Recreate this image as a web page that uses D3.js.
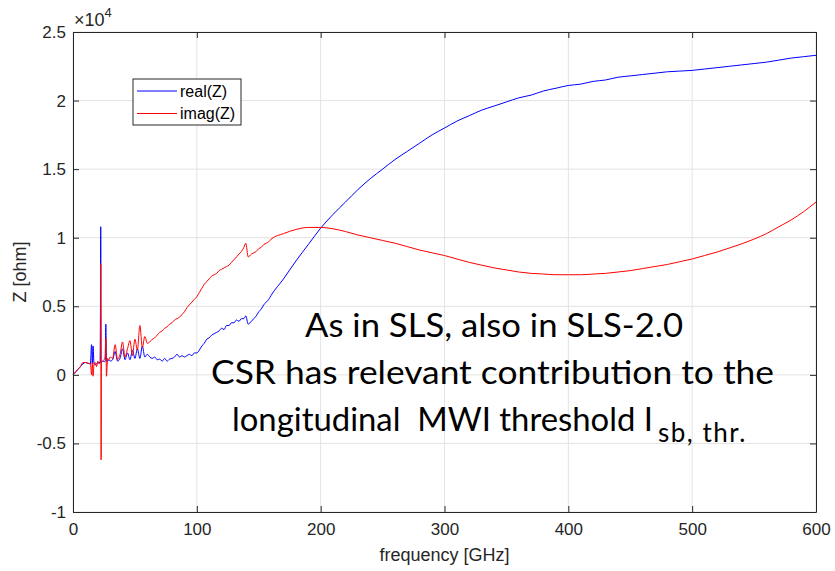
<!DOCTYPE html>
<html>
<head>
<meta charset="utf-8">
<script src="https://cdn.jsdelivr.net/npm/d3@7"></script>
<style>
  body { margin: 0; background: #fff; }
  text { font-family: "Liberation Sans", Arial, sans-serif; }
</style>
</head>
<body>
<svg id="chart" width="835" height="571"></svg>
<script>
// Longitudinal impedance Z(f) in units of 1e4 ohm
const freqGHz = [
  0, 2, 4, 6, 8, 10, 12, 14, 15, 15.6, 16.2, 17, 18, 19, 20, 21, 22, 22.4, 22.7, 23,
  24, 25, 26, 26.5, 27, 28, 29, 30,
  32, 34, 36, 38, 40, 42, 44, 46, 48, 50, 52, 54, 56, 58, 60,
  62, 64, 66, 68, 70, 72, 74, 76, 78, 80, 82, 84, 86, 88, 90, 92, 94, 96, 98, 100,
  102, 104, 106, 108, 110, 112, 114, 116, 118, 120, 122, 124, 126, 128, 130,
  132, 134, 136, 138, 139.5, 141.5, 144, 146, 148, 150, 152, 154, 156, 158, 160,
  170, 180, 190, 200, 210, 220, 230, 240, 250, 260, 270, 280, 290, 300,
  310, 320, 330, 340, 350, 360, 370, 380, 390, 400, 410, 420, 430, 440, 450,
  460, 470, 480, 490, 500, 510, 520, 530, 540, 550, 560, 570, 580, 590, 600
];

const realZ = [
  0.00, 0.02, 0.04, 0.06, 0.08, 0.09, 0.085, 0.08, 0.22, 0.08, 0.21, 0.08, 0.075, 0.08, 0.085, 0.09, 0.09, 1.08, 0.09, 0.09,
  0.10, 0.095, 0.10, 0.37, 0.10, 0.10, 0.11, 0.10,
  0.11, 0.17, 0.10, 0.12, 0.19, 0.11, 0.16, 0.11, 0.18, 0.12, 0.19, 0.12, 0.21, 0.13, 0.15,
  0.13, 0.12, 0.13, 0.11, 0.115, 0.10, 0.12, 0.10, 0.115, 0.12, 0.13, 0.15, 0.13, 0.14, 0.13, 0.14, 0.15, 0.14, 0.16, 0.16,
  0.18, 0.21, 0.23, 0.26, 0.27, 0.29, 0.30, 0.31, 0.32, 0.34, 0.33, 0.36, 0.36, 0.38, 0.38,
  0.40, 0.39, 0.41, 0.41, 0.43, 0.37, 0.39, 0.41, 0.43, 0.46, 0.48, 0.51, 0.53, 0.55, 0.58,
  0.70, 0.83, 0.95, 1.07, 1.17, 1.26, 1.35, 1.43, 1.50, 1.57, 1.63, 1.69, 1.75, 1.80,
  1.85, 1.89, 1.93, 1.96, 1.99, 2.02, 2.04, 2.07, 2.09, 2.11, 2.12, 2.14, 2.15, 2.17, 2.18,
  2.19, 2.20, 2.21, 2.215, 2.22, 2.23, 2.24, 2.25, 2.26, 2.27, 2.28, 2.295, 2.31, 2.32, 2.33
];

const imagZ = [
  0.00, 0.02, 0.04, 0.06, 0.09, 0.09, 0.085, 0.08, 0.00, 0.09, -0.01, 0.08, 0.09, 0.06, 0.10, 0.08, 0.09, 0.81, -0.62, 0.09,
  0.10, 0.11, 0.13, 0.27, -0.01, 0.12, 0.11, 0.13,
  0.12, 0.22, 0.11, 0.15, 0.24, 0.13, 0.19, 0.25, 0.14, 0.26, 0.18, 0.36, 0.20, 0.28, 0.23,
  0.24, 0.26, 0.27, 0.29, 0.31, 0.32, 0.34, 0.35, 0.37, 0.38, 0.40, 0.41, 0.42, 0.44, 0.46, 0.49, 0.51, 0.53, 0.55, 0.57,
  0.60, 0.63, 0.66, 0.68, 0.70, 0.72, 0.73, 0.74, 0.76, 0.77, 0.78, 0.79, 0.80, 0.82, 0.84,
  0.86, 0.88, 0.90, 0.93, 0.96, 0.86, 0.88, 0.89, 0.90, 0.92, 0.93, 0.95, 0.96, 0.97, 0.99,
  1.03, 1.06, 1.075, 1.075, 1.065, 1.045, 1.02, 1.00, 0.98, 0.96, 0.935, 0.91, 0.89, 0.87,
  0.845, 0.82, 0.80, 0.78, 0.765, 0.75, 0.74, 0.735, 0.73, 0.73, 0.73, 0.735, 0.74, 0.75, 0.76,
  0.775, 0.79, 0.805, 0.825, 0.845, 0.87, 0.895, 0.925, 0.955, 0.99, 1.03, 1.08, 1.13, 1.19, 1.26
];

const xTicks = [0, 100, 200, 300, 400, 500, 600];
const yTicks = [-1, -0.5, 0, 0.5, 1, 1.5, 2, 2.5];
const seriesNames = ["real(Z)", "imag(Z)"];
const seriesColors = ["#0000ff", "#ff0000"];
const noteLines = [
  "As in SLS, also in SLS-2.0",
  "CSR has relevant contribution to the",
  "longitudinal  MWI threshold I"
];
const noteSubscript = "sb, thr.";

const svg = d3.select("#chart");
const margin = { left: 73, right: 19, top: 32, bottom: 59 };
const W = 835, H = 571;
const x = d3.scaleLinear().domain([0, 600]).range([margin.left, W - margin.right]);
const y = d3.scaleLinear().domain([-1, 2.5]).range([H - margin.bottom, margin.top]);
const axisColor = "#262626";

// grid
const grid = svg.append("g");
grid.selectAll(".gx").data(xTicks).join("line")
  .attr("x1", d => x(d)).attr("x2", d => x(d))
  .attr("y1", y(-1)).attr("y2", y(2.5))
  .attr("stroke", "#e3e3e3").attr("stroke-width", 1);
grid.selectAll(".gy").data(yTicks).join("line")
  .attr("x1", x(0)).attr("x2", x(600))
  .attr("y1", d => y(d)).attr("y2", d => y(d))
  .attr("stroke", "#e3e3e3").attr("stroke-width", 1);

// curves
const line = d3.line().x((d, i) => x(freqGHz[i])).y(d => y(d)).curve(d3.curveMonotoneX);
const plot = svg.append("g");
[realZ, imagZ].forEach((vals, k) => {
  plot.append("path").datum(vals)
    .attr("d", line)
    .attr("fill", "none")
    .attr("stroke", seriesColors[k])
    .attr("stroke-width", 1)
    .attr("stroke-linejoin", "round");
});

// axes (box with inward ticks on all four sides)
const tickSize = -6;
const axBottom = svg.append("g").attr("transform", `translate(0,${y(-1)})`)
  .call(d3.axisBottom(x).tickValues(xTicks).tickSizeInner(tickSize).tickSizeOuter(0).tickPadding(11).tickFormat(d3.format("d")));
const axTop = svg.append("g").attr("transform", `translate(0,${y(2.5)})`)
  .call(d3.axisTop(x).tickValues(xTicks).tickSizeInner(tickSize).tickSizeOuter(0).tickFormat(""));
const axLeft = svg.append("g").attr("transform", `translate(${x(0)},0)`)
  .call(d3.axisLeft(y).tickValues(yTicks).tickSizeInner(tickSize).tickSizeOuter(0).tickPadding(7).tickFormat(d => String(d)));
const axRight = svg.append("g").attr("transform", `translate(${x(600)},0)`)
  .call(d3.axisRight(y).tickValues(yTicks).tickSizeInner(tickSize).tickSizeOuter(0).tickFormat(""));
[axBottom, axTop, axLeft, axRight].forEach(g => {
  g.select(".domain").attr("stroke", axisColor).attr("stroke-width", 1);
  g.selectAll(".tick line").attr("stroke", axisColor);
  g.selectAll(".tick text").attr("fill", axisColor).style("font-size", "17px")
    .style("font-family", "'Liberation Sans', Arial, sans-serif");
});

// exponent label
const expo = svg.append("text").attr("x", x(0) + 1).attr("y", 26).attr("fill", axisColor)
  .style("font-size", "18px");
expo.append("tspan").text("\u00d710");
expo.append("tspan").attr("dy", -9).style("font-size", "13px").text("4");

// axis titles
svg.append("text").attr("x", (x(0) + x(600)) / 2).attr("y", 561)
  .attr("text-anchor", "middle").attr("fill", axisColor).style("font-size", "18px")
  .text("frequency [GHz]");
svg.append("text").attr("transform", `translate(26,${(y(-1) + y(2.5)) / 2}) rotate(-90)`)
  .attr("text-anchor", "middle").attr("fill", axisColor).style("font-size", "18px")
  .text("Z [ohm]");

// legend
const lg = svg.append("g").attr("transform", "translate(133,79)");
lg.append("rect").attr("width", 108).attr("height", 46)
  .attr("fill", "#fff").attr("stroke", axisColor).attr("stroke-width", 1);
seriesNames.forEach((name, k) => {
  const yy = 12 + k * 22.5;
  lg.append("line").attr("x1", 4).attr("x2", 44).attr("y1", yy).attr("y2", yy)
    .attr("stroke", seriesColors[k]).attr("stroke-width", 1);
  lg.append("text").attr("x", 47).attr("y", yy + 5.5).attr("fill", "#000")
    .style("font-size", "16px").text(name);
});

// annotation
const noteFont = "Lato, 'Open Sans', sans-serif";
const noteSpans = [[305, 683, 337], [211, 774, 384], [232, 653, 431]];
noteLines.forEach((t, i) => {
  const [x0, x1, yb] = noteSpans[i];
  svg.append("text").attr("x", x0).attr("y", yb)
    .attr("textLength", x1 - x0).attr("lengthAdjust", "spacingAndGlyphs")
    .style("white-space", "pre")
    .style("font-family", noteFont).style("font-size", "33px").attr("fill", "#000")
    .text(t);
});
// subscript of I
svg.append("text").attr("x", 658).attr("y", 442)
  .style("font-family", noteFont).style("font-size", "26px")
  .style("letter-spacing", "1.5px").attr("fill", "#000")
  .text(noteSubscript);
</script>
</body>
</html>
